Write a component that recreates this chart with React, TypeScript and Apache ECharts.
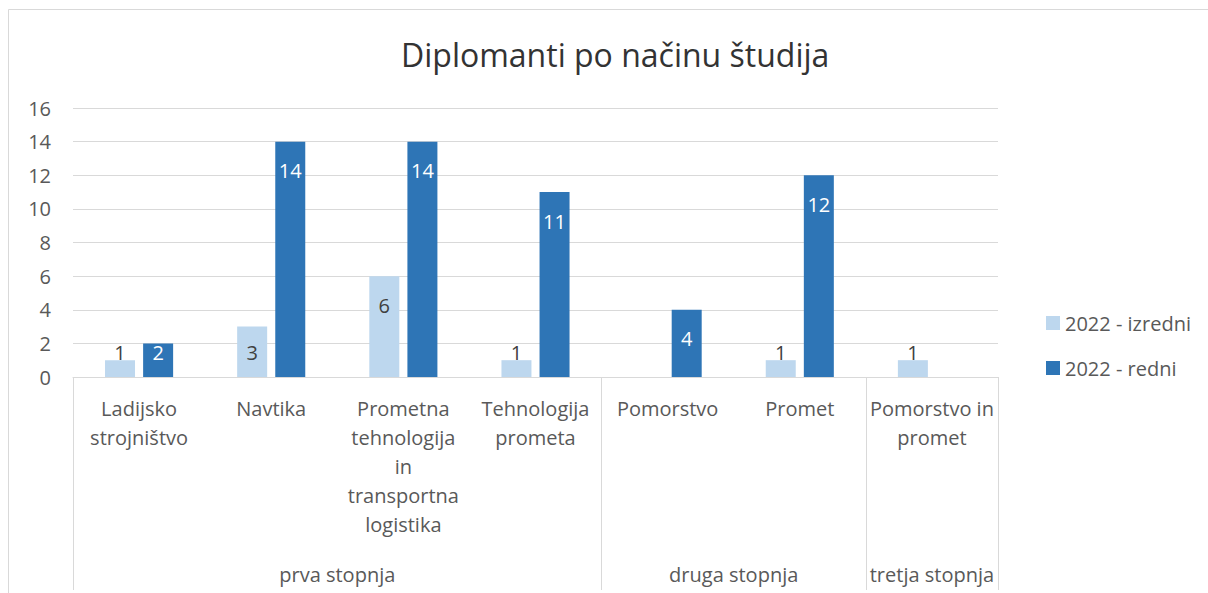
import React, { useEffect, useRef } from "react";
import * as echarts from "echarts";

const categories = [
  "Ladijsko\nstrojništvo",
  "Navtika",
  "Prometna\ntehnologija\nin\ntransportna\nlogistika",
  "Tehnologija\nprometa",
  "Pomorstvo",
  "Promet",
  "Pomorstvo in\npromet",
];
const izredni: (number | null)[] = [1, 3, 6, 1, null, 1, 1];
const redni: (number | null)[] = [2, 14, 14, 11, 4, 12, null];
const groupNames = ["prva stopnja", "druga stopnja", "tretja stopnja"];
const groupSizes = [4, 2, 1];
const yTicks = [0, 2, 4, 6, 8, 10, 12, 14, 16];

const FONT = "'Open Sans', sans-serif";
const TXT = "#595959";

export default function App() {
  const ref = useRef<HTMLDivElement>(null);
  useEffect(() => {
    if (!ref.current) return;
    const chart = echarts.init(ref.current, undefined, { renderer: "svg" });

    const bounds: number[] = [0];
    const centers: number[] = [];
    groupSizes.forEach((s) => {
      const start = bounds[bounds.length - 1];
      centers.push(start + s / 2);
      bounds.push(start + s);
    });

    const mkData = (vals: (number | null)[], color: string) =>
      vals.map((v) =>
        v == null
          ? null
          : {
              value: v,
              label: {
                show: true,
                color,
                position: v <= 3 ? "insideBottom" : "insideTop",
                distance: v <= 3 ? 13 : 17,
                fontSize: 20,
                lineHeight: 24,
                fontFamily: FONT,
              },
            }
      );

    chart.setOption({
      animation: false,
      backgroundColor: "#fff",
      textStyle: { fontFamily: FONT },
      title: {
        text: "Diplomanti po načinu študija",
        left: 396,
        top: 33,
        textStyle: { fontSize: 32, fontWeight: "normal", color: "#333", fontFamily: FONT },
      },
      legend: {
        orient: "vertical",
        left: 1041,
        top: 306,
        itemWidth: 14,
        itemHeight: 14,
        itemGap: 21,
        icon: "rect",
        textStyle: { fontSize: 20, lineHeight: 24, color: TXT, fontFamily: FONT },
        data: ["2022 - izredni", "2022 - redni"],
      },
      grid: { left: 73, right: 210, top: 108, bottom: 216, containLabel: false },
      xAxis: [
        {
          type: "category",
          data: categories,
          axisLine: { lineStyle: { color: "#d9d9d9", width: 1 } },
          axisTick: { show: false },
          axisLabel: {
            interval: 0,
            margin: 17,
            fontSize: 20,
            lineHeight: 29,
            color: TXT,
            fontFamily: FONT,
          },
        },
        {
          type: "value",
          min: 0,
          max: bounds[bounds.length - 1],
          position: "bottom",
          offset: 0,
          axisLine: { show: false },
          splitLine: { show: false },
          axisTick: {
            show: true,
            customValues: bounds,
            length: 213,
            lineStyle: { color: "#d9d9d9", width: 1 },
          },
          axisLabel: {
            customValues: centers,
            margin: 185,
            fontSize: 20,
            lineHeight: 24,
            color: TXT,
            fontFamily: FONT,
            formatter: (v: number) => {
              const i = centers.findIndex((c) => Math.abs(c - v) < 1e-6);
              return i >= 0 ? groupNames[i] : "";
            },
          },
        },
      ],
      yAxis: {
        type: "value",
        min: yTicks[0],
        max: yTicks[yTicks.length - 1],
        interval: 2,
        axisLine: { show: false },
        axisTick: { show: false },
        splitLine: { lineStyle: { color: "#d9d9d9", width: 1 } },
        axisLabel: { margin: 22, fontSize: 20, color: TXT, fontFamily: FONT },
      },
      graphic: [
        {
          type: "rect",
          shape: { x: 8.5, y: 9.5, width: 1400, height: 800 },
          style: { fill: "none", stroke: "#d9d9d9", lineWidth: 1 },
          silent: true,
          z: -1,
        },
      ],
      series: [
        {
          name: "2022 - izredni",
          type: "bar",
          xAxisIndex: 0,
          barWidth: 30,
          barGap: "27%",
          itemStyle: { color: "#BDD7EE" },
          data: mkData(izredni, "#404040"),
        },
        {
          name: "2022 - redni",
          type: "bar",
          xAxisIndex: 0,
          barWidth: 30,
          barGap: "27%",
          itemStyle: { color: "#2E75B6" },
          data: mkData(redni, "#ffffff"),
        },
      ],
    });
    return () => chart.dispose();
  }, []);
  return (
    <div
      ref={ref}
      style={{ position: "absolute", left: 0, top: 0, width: 1208, height: 593 }}
    />
  );
}
